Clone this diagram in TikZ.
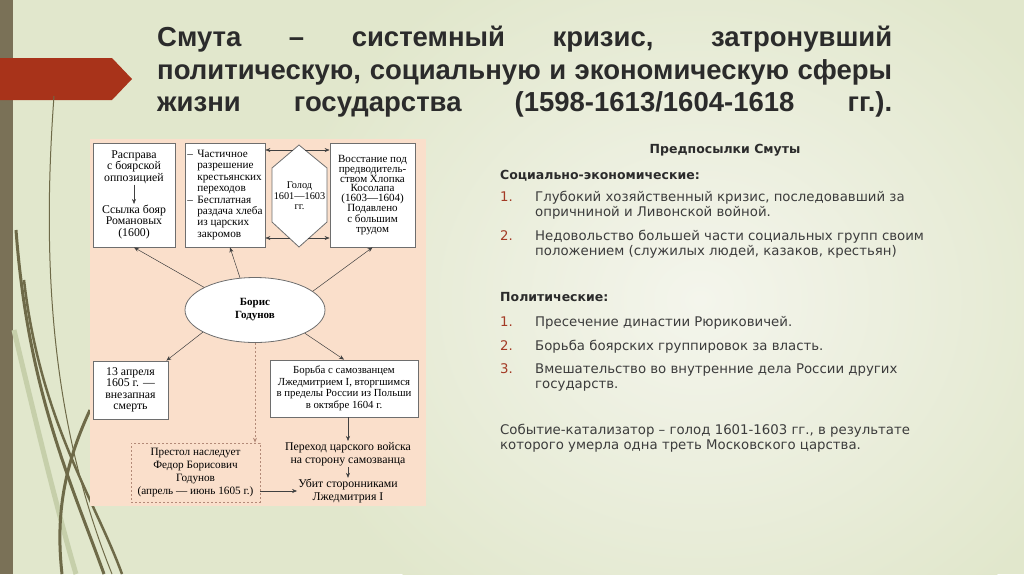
\documentclass[tikz,border=0pt]{standalone}
\usepackage{fontspec}
\setmainfont{Liberation Serif}
\newfontfamily\headfont{Liberation Sans}
\newfontfamily\bodyfont{DejaVu Sans}
\usetikzlibrary{positioning,arrows.meta,calc,shapes.geometric}
\definecolor{bgleft} {HTML}{E1E7CC}
\definecolor{bgmid}  {HTML}{F4F5EC}
\definecolor{bar}    {HTML}{7A7157}
\definecolor{banner} {HTML}{A8331A}
\definecolor{peach}  {HTML}{FADFCB}
\definecolor{frame}  {HTML}{6E6E6E}
\definecolor{dashc}  {HTML}{B38A78}
\definecolor{ink}    {HTML}{2B2B2B}
\definecolor{bodyc}  {HTML}{3C3C3C}
\definecolor{numc}   {HTML}{A33A25}
\definecolor{grass}  {HTML}{6E6A48}
\definecolor{grasslt}{HTML}{C6CFAA}
\tikzset{
  box/.style  ={draw=frame, line width=0.8pt, fill=white, align=center,
                inner sep=2pt, font=\fontsize{11.8}{11.4}\selectfont},
  boxd/.style ={draw=dashc, line width=0.7pt, dash pattern=on 2pt off 2pt,
                align=center, inner sep=2pt,
                font=\fontsize{11.2}{13}\selectfont},
  ell/.style  ={ellipse, draw=frame, line width=0.8pt, fill=white,
                align=center, font=\bfseries\fontsize{11}{13}\selectfont},
  hexa/.style ={draw=frame, line width=0.8pt, fill=white},
  txt/.style  ={align=center, inner sep=1pt,
                font=\fontsize{11.8}{11.4}\selectfont},
  ar/.style   ={-{Stealth[length=5pt,width=4pt]}, draw=black!75,
                line width=0.5pt},
  ard/.style  ={-{Stealth[length=5pt,width=4pt]}, draw=dashc,
                line width=0.7pt, dash pattern=on 2pt off 2pt},
  ttl/.style  ={anchor=base west, inner sep=0pt, text=ink,
                font=\headfont\bfseries\fontsize{27.5}{32}\selectfont},
  hd/.style   ={inner sep=0pt, text=ink,
                font=\bodyfont\bfseries\fontsize{12.5}{15}\selectfont},
  item/.style ={anchor=base west, inner sep=0pt, align=left, text=bodyc,
                font=\bodyfont\fontsize{13.3}{15}\selectfont},
  num/.style  ={anchor=base west, inner sep=0pt, text=numc,
                font=\bodyfont\fontsize{13.3}{15}\selectfont}
}
\newcommand{\dashitem}{\makebox[10pt][l]{--}}
\newcommand{\hang}{\hspace*{10pt}}

\begin{document}
\begin{tikzpicture}[x=1pt,y=-1pt]
\useasboundingbox (0,0) rectangle (1024,574);
% background
\fill[bgleft] (0,0) rectangle (1024,574);
\shade[inner color=bgmid, outer color=bgleft] (700,300) ellipse (430 and 380);
\fill[bar] (0,0) rectangle (13,574);
\fill[banner] (0,58) -- (112,58) -- (132,79) -- (112,100) -- (0,100) -- cycle;
\draw[grasslt, line width=5pt] (14,330) .. controls (40,440) and (60,520) .. (76,574);
\draw[grass, line width=1pt] (54,96) .. controls (42,260) and (50,420) .. (112,574);
\draw[grass, line width=3pt] (16,230) .. controls (28,390) and (70,480) .. (104,574);
\draw[grass, line width=2.5pt] (24,280) .. controls (40,420) and (95,500) .. (122,574);
\draw[grass, line width=3pt] (90,410) .. controls (62,470) and (56,520) .. (62,574);

% title
\node[ttl] (t1) at (157,46) {\makebox[735pt][s]{Смута – системный кризис, затронувший}};
\node[ttl] (t2) at (157,79) {\makebox[735pt][s]{политическую, социальную и экономическую сферы}};
\node[ttl] (t3) at (157,111) {\makebox[735pt][s]{жизни государства (1598-1613/1604-1618 гг.).}};

% scheme
\fill[peach] (90,139) rectangle (426,506);
\node[box, minimum width=82, minimum height=104] (boxA) at (134,195) {};
\node[txt] (rasprava) at (134,167) {Расправа\\с боярской\\оппозицией};
\node[txt] (ssylka) at (134,222) {Ссылка бояр\\Романовых\\(1600)};
\draw[ar] (rasprava) -- (ssylka);

\node[box, minimum width=80, minimum height=104, align=left,
      font=\fontsize{11.2}{11.4}\selectfont] (boxB) at (225,195)
  {\dashitem Частичное\\ \hang разрешение\\ \hang крестьянских\\ \hang переходов\\
   \dashitem Бесплатная\\ \hang раздача хлеба\\ \hang из царских\\ \hang закромов};

\draw[hexa] (299,145) -- (327,168) -- (327,222) -- (299,247) -- (272,222) -- (272,168) -- cycle;
\node[txt, font=\fontsize{10.3}{10.5}\selectfont] (golod) at (299.5,196) {Голод\\1601—1603\\гг.};
\coordinate (hexTL) at (293,150);
\coordinate (hexTR) at (305,150);
\coordinate (hexBL) at (290,238);
\coordinate (hexBR) at (308,238);

\node[box, minimum width=85, minimum height=104,
      font=\fontsize{11}{9.9}\selectfont] (boxC) at (372.5,195)
  {Восстание под\\предводитель-\\ством Хлопка\\Косолапа\\(1603—1604)\\Подавлено\\с большим\\трудом};

\draw[ar] (hexTL) -- (boxB.east |- hexTL);
\draw[ar] (hexTR) -- (boxC.west |- hexTR);
\draw[ar] (hexBL) -- (boxB.east |- hexBL);
\draw[ar] (hexBR) -- (boxC.west |- hexBR);

\node[ell, minimum width=140, minimum height=65] (godunov) at (255,310) {Борис\\Годунов};
\draw[ar] (godunov.156) -- (boxA.south);
\draw[ar] (godunov.115) -- ([xshift=5pt]boxB.south);
\draw[ar] (godunov.18) -- (boxC.south);

\node[box, minimum width=75, minimum height=58] (boxD) at (130.5,390)
  {13 апреля\\1605 г. —\\внезапная\\смерть};
\node[box, minimum width=148, minimum height=57,
      font=\fontsize{10.8}{11.5}\selectfont] (boxE) at (344,388.5)
  {Борьба с самозванцем\\Лжедмитрием I, вторгшимся\\в пределы России из Польши\\в октябре 1604 г.};
\draw[ar] (godunov.203) -- ([xshift=-2pt]boxD.north east);
\draw[ar] (godunov.335) -- (boxE.north);

\node[boxd, minimum width=129, minimum height=59] (boxF) at (195.5,472.5)
  {Престол наследует\\Федор Борисович\\Годунов\\(апрель — июнь 1605 г.)};
\draw[ard] (godunov.south) -- (godunov.south |- boxF.north);

\node[txt, font=\fontsize{11.8}{13}\selectfont] (perehod) at (348,454)
  {Переход царского войска\\на сторону самозванца};
\node[txt, font=\fontsize{11.8}{13}\selectfont] (ubit) at (348,491)
  {Убит сторонниками\\Лжедмитрия I};
\draw[ar] (boxE.south -| perehod) -- (perehod);
\draw[ar] (perehod) -- (ubit);
\draw[ar] (boxF.east |- ubit) -- (ubit);

% right column
\node[hd] (pre) at (725,150) {Предпосылки Смуты};
\node[hd, anchor=base west] (soc) at (500,179.5) {Социально-экономические:};
\node[num] (s1n) at (500,201.5) {1.};
\node[item] (s1) at (535,216.5) {Глубокий хозяйственный кризис, последовавший за\\опричниной и Ливонской войной.};
\node[num] (s2n) at (500,240.5) {2.};
\node[item] (s2) at (535,255.5) {Недовольство большей части социальных групп своим\\положением (служилых людей, казаков, крестьян)};
\node[hd, anchor=base west] (pol) at (500,301.5) {Политические:};
\node[num] (p1n) at (500,326.5) {1.};
\node[item] (p1) at (535,326.5) {Пресечение династии Рюриковичей.};
\node[num] (p2n) at (500,350.5) {2.};
\node[item] (p2) at (535,350.5) {Борьба боярских группировок за власть.};
\node[num] (p3n) at (500,373.5) {3.};
\node[item] (p3) at (535,388.5) {Вмешательство во внутренние дела России других\\государств.};
\node[item] (kat) at (500,449.5) {Событие-катализатор – голод 1601-1603 гг., в результате\\которого умерла одна треть Московского царства.};
\end{tikzpicture}
\end{document}
